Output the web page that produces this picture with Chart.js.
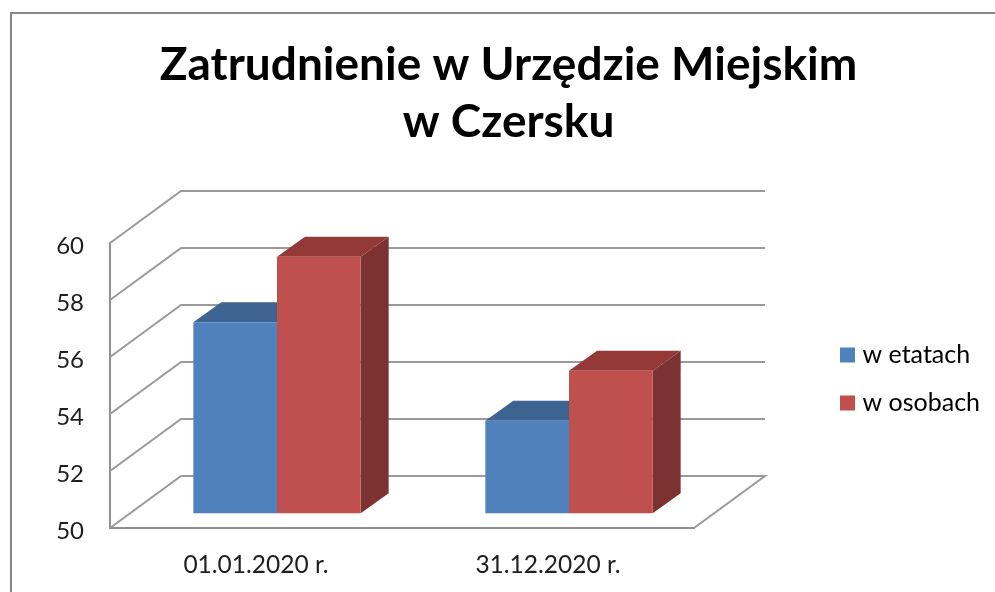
<!DOCTYPE html>
<html lang="pl">
<head>
<meta charset="utf-8">
<title>Zatrudnienie w Urzędzie Miejskim w Czersku</title>
<script src="https://cdn.jsdelivr.net/npm/chart.js@4"></script>
<style>
html,body{margin:0;padding:0;background:#fff;overflow:hidden;width:995px;height:592px}
#frame{position:absolute;left:10px;top:12px;width:993px;height:600px;border:2px solid #868686;background:#fff}
canvas{display:block}
</style>
</head>
<body>
<div id="frame"><canvas id="c" width="993" height="578"></canvas></div>
<script>
const titleLines = ["Zatrudnienie w Urzędzie Miejskim", "w Czersku"];
const categories = ["01.01.2020 r.", "31.12.2020 r."];
const seriesNames = ["w etatach", "w osobach"];
const wEtatach = [56.7, 53.25];
const wOsobach = [59, 55];
const yTicks = [50, 52, 54, 56, 58, 60];

const frontColors = ["#4F81BD", "#C0504D"];
const topColors = ["#3D6390", "#933A38"];
const sideColors = ["#2F4D71", "#7C3230"];
const gridColor = "#9A9A9A";
const textColor = "#1E1E1E";
const FONT = "Lato, Carlito, Calibri, sans-serif";

const wallDepth = {x: 71, y: -52};
const barPlane = {x: 21, y: -14.7};
const barDepth = {x: 28, y: -20};

const poly = (ctx, pts, fill) => {
  ctx.beginPath();
  pts.forEach((p, i) => i ? ctx.lineTo(p[0], p[1]) : ctx.moveTo(p[0], p[1]));
  ctx.closePath();
  ctx.fillStyle = fill;
  ctx.fill();
};

const pseudo3d = {
  id: "pseudo3d",
  beforeLayout(chart) {
    const lg = chart.legend;
    if (lg && !lg._wrapped) {
      const fit = lg.fit.bind(lg);
      lg.fit = () => { fit(); lg.width = 311; };
      lg._wrapped = true;
    }
  },
  afterLayout(chart) {
    const lg = chart.legend;
    const h = lg.bottom - lg.top;
    lg.left = 810;
    lg.right = 810 + 183;
    lg.top = 365 - h / 2;
    lg.bottom = lg.top + h;
  },
  beforeDatasetsDraw(chart) {
    const {ctx, chartArea: a, scales: {y}} = chart;
    ctx.save();
    ctx.strokeStyle = gridColor;
    ctx.lineWidth = 2;
    ctx.lineJoin = "miter";
    yTicks.forEach(v => {
      const py = y.getPixelForValue(v);
      ctx.beginPath();
      ctx.moveTo(a.left, py);
      ctx.lineTo(a.left + wallDepth.x, py + wallDepth.y);
      ctx.lineTo(a.right + wallDepth.x, py + wallDepth.y);
      if (v === yTicks[0]) ctx.lineTo(a.right, py);
      ctx.stroke();
    });
    ctx.restore();

    ctx.save();
    ctx.translate(barPlane.x, barPlane.y);
    chart.data.datasets.forEach((ds, i) => {
      chart.getDatasetMeta(i).data.forEach(bar => {
        const l = bar.x - bar.width / 2, r = bar.x + bar.width / 2;
        const t = bar.y, b = bar.base, dx = barDepth.x, dy = barDepth.y;
        poly(ctx, [[r, b], [r + dx, b + dy], [r + dx, t + dy], [r, t]], sideColors[i]);
        poly(ctx, [[l, t], [l + dx, t + dy], [r + dx, t + dy], [r, t]], topColors[i]);
      });
    });
  },
  afterDatasetsDraw(chart) {
    chart.ctx.restore();
  }
};

new Chart(document.getElementById("c"), {
  type: "bar",
  data: {
    labels: categories,
    datasets: [
      {label: seriesNames[0], data: wEtatach, base: yTicks[0], backgroundColor: frontColors[0], categoryPercentage: 0.573, barPercentage: 1, clip: false},
      {label: seriesNames[1], data: wOsobach, base: yTicks[0], backgroundColor: frontColors[1], categoryPercentage: 0.573, barPercentage: 1, clip: false}
    ]
  },
  plugins: [pseudo3d],
  options: {
    responsive: false,
    animation: false,
    events: [],
    layout: {padding: 0},
    plugins: {
      tooltip: {enabled: false},
      title: {
        display: true,
        text: titleLines,
        color: "#000",
        align: "center",
        font: {family: FONT, size: 46, weight: "bold", lineHeight: 57 / 46},
        padding: {top: 23, bottom: 92}
      },
      legend: {
        display: true,
        position: "right",
        labels: {
          color: textColor,
          font: {family: FONT, size: 25},
          boxWidth: 5,
          boxHeight: 5,
          padding: 23,
          generateLabels: () => seriesNames.map((n, i) => ({
            text: n, fillStyle: frontColors[i], strokeStyle: frontColors[i], lineWidth: 10, datasetIndex: i
          }))
        }
      }
    },
    scales: {
      x: {
        grid: {display: false, drawTicks: false},
        border: {color: "#909090", width: 2},
        ticks: {color: textColor, font: {family: FONT, size: 24.5}, padding: 22, maxRotation: 0},
        afterFit: s => { s.height = 64; }
      },
      y: {
        min: yTicks[0],
        max: yTicks[yTicks.length - 1],
        grid: {display: false, drawTicks: false},
        border: {color: "#909090", width: 2},
        afterBuildTicks: s => { s.ticks = yTicks.map(v => ({value: v})); },
        ticks: {color: textColor, font: {family: FONT, size: 24}, padding: 26, labelOffset: 3},
        afterFit: s => { s.width = 98; }
      }
    }
  }
});
</script>
</body>
</html>
